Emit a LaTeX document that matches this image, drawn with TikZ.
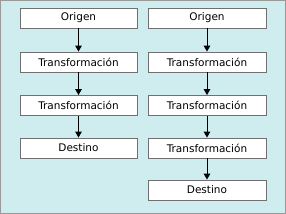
\documentclass[tikz,border=0pt]{standalone}
\usepackage{fontspec}
\setmainfont{DejaVu Sans}
\usetikzlibrary{arrows.meta}
\definecolor{bgc}{HTML}{CFECEE}
\definecolor{bordc}{HTML}{9A9A9A}
\definecolor{boxc}{HTML}{707070}
\tikzset{
  stepbox/.style={draw=boxc, line width=0.8bp, fill=white, minimum height=20bp, inner sep=0pt, font=\fontsize{10.5bp}{12bp}\selectfont},
  leftbox/.style={stepbox, minimum width=117bp},
  rightbox/.style={stepbox, minimum width=118bp},
  flow/.style={line width=1bp, -{Triangle[width=6.5bp,length=6bp]}}
}
\begin{document}
\begin{tikzpicture}[x=1bp,y=-1bp]
\useasboundingbox (0,0) rectangle (286,214);
\draw[fill=bgc, draw=bordc, line width=1bp] (0.5,0.5) rectangle (285.5,213.5);
% left column
\node[leftbox] (l1) at (78.5,18) {Origen};
\node[leftbox] (l2) at (78.5,62) {Transformación};
\node[leftbox] (l3) at (78.5,105.5) {Transformación};
\node[leftbox] (l4) at (78.5,148) {Destino};
% right column
\node[rightbox] (r1) at (207,18) {Origen};
\node[rightbox] (r2) at (207,62) {Transformación};
\node[rightbox] (r3) at (207,105.5) {Transformación};
\node[rightbox] (r4) at (207,148) {Transformación};
\node[rightbox] (r5) at (207,190) {Destino};
\draw[flow] (l1) -- (l2);
\draw[flow] (l2) -- (l3);
\draw[flow] (l3) -- (l4);
\draw[flow] (r1) -- (r2);
\draw[flow] (r2) -- (r3);
\draw[flow] (r3) -- (r4);
\draw[flow] (r4) -- (r5);
\end{tikzpicture}
\end{document}
